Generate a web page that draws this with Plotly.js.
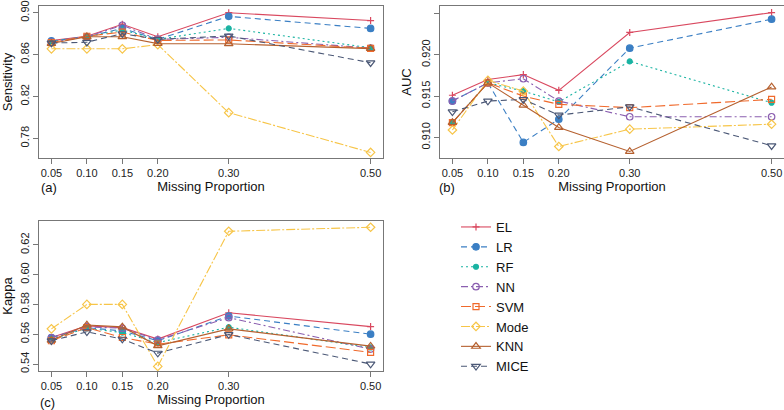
<!DOCTYPE html>
<html>
<head>
<meta charset="utf-8">
<script src="https://cdn.plot.ly/plotly-3.0.1.min.js"></script>
<style>html,body{margin:0;padding:0;background:#fff;}#chart{width:784px;height:410px;}</style>
</head>
<body>
<div id="chart"></div>
<script>
// ---- data ----
const proportions = [0.05, 0.10, 0.15, 0.20, 0.30, 0.50];
const tickLabels = ['0.05', '0.10', '0.15', '0.20', '0.30', '0.50'];
const methods = ['EL', 'LR', 'RF', 'NN', 'SVM', 'Mode', 'KNN', 'MICE'];

const sensEL   = [0.8735, 0.8775, 0.8890, 0.8770, 0.9000, 0.8925];
const sensLR   = [0.8730, 0.8770, 0.8850, 0.8745, 0.8965, 0.8850];
const sensRF   = [0.8725, 0.8770, 0.8835, 0.8745, 0.8850, 0.8665];
const sensNN   = [0.8720, 0.8770, 0.8880, 0.8745, 0.8765, 0.8662];
const sensSVM  = [0.8715, 0.8775, 0.8815, 0.8735, 0.8740, 0.8660];
const sensMode = [0.8655, 0.8655, 0.8655, 0.8695, 0.8045, 0.7665];
const sensKNN  = [0.8705, 0.8770, 0.8770, 0.8705, 0.8703, 0.8657];
const sensMICE = [0.8710, 0.8718, 0.8800, 0.8745, 0.8778, 0.8522];

const aucEL   = [0.9151, 0.9170, 0.9176, 0.9157, 0.9227, 0.9251];
const aucLR   = [0.9144, 0.9166, 0.9094, 0.9122, 0.9208, 0.9243];
const aucRF   = [0.9118, 0.9166, 0.9156, 0.9143, 0.9192, 0.9142];
const aucNN   = [0.9144, 0.9166, 0.9171, 0.9144, 0.9125, 0.9125];
const aucSVM  = [0.9118, 0.9166, 0.9150, 0.9140, 0.9136, 0.9146];
const aucMode = [0.9109, 0.9169, 0.9156, 0.9089, 0.9110, 0.9116];
const aucKNN  = [0.9118, 0.9166, 0.9139, 0.9112, 0.9083, 0.9161];
const aucMICE = [0.9131, 0.9144, 0.9146, 0.9127, 0.9137, 0.9090];

const kapEL   = [0.5578, 0.5656, 0.5644, 0.5567, 0.5744, 0.5651];
const kapLR   = [0.5578, 0.5644, 0.5622, 0.5556, 0.5722, 0.5600];
const kapRF   = [0.5567, 0.5640, 0.5611, 0.5544, 0.5647, 0.5511];
const kapNN   = [0.5575, 0.5650, 0.5640, 0.5562, 0.5711, 0.5500];
const kapSVM  = [0.5556, 0.5644, 0.5578, 0.5533, 0.5596, 0.5478];
const kapMode = [0.5636, 0.5800, 0.5800, 0.5384, 0.6291, 0.6318];
const kapKNN  = [0.5560, 0.5662, 0.5649, 0.5522, 0.5636, 0.5520];
const kapMICE = [0.5556, 0.5616, 0.5567, 0.5473, 0.5598, 0.5400];

const sensData = [sensEL, sensLR, sensRF, sensNN, sensSVM, sensMode, sensKNN, sensMICE];
const aucData  = [aucEL, aucLR, aucRF, aucNN, aucSVM, aucMode, aucKNN, aucMICE];
const kapData  = [kapEL, kapLR, kapRF, kapNN, kapSVM, kapMode, kapKNN, kapMICE];

// ---- styles ----
const colors = ['#D9485F', '#3B7FC4', '#1AB3A2', '#8B5FB0', '#F06A2C', '#F7C548', '#B5602F', '#4B5876'];
const dashes = ['solid', '6px,4px', '2px,3px', '7px,3px,2px,3px', '10px,4px', '9px,2px,2px,2px', 'solid', '6px,4px'];
const symbols = ['cross-thin-open', 'circle', 'circle', 'circle-open', 'square-open', 'diamond-open', 'triangle-up-open', 'triangle-down-open'];
const sizes = [5, 6.5, 5, 6.5, 6, 6.5, 7.5, 7.5];

const traces = [];
const panels = [[sensData, 'x', 'y'], [aucData, 'x2', 'y2'], [kapData, 'x3', 'y3']];
panels.forEach(([data, xa, ya], p) => {
  methods.forEach((m, i) => {
    traces.push({
      type: 'scatter', mode: 'lines+markers',
      x: proportions, y: data[i], name: m,
      xaxis: xa, yaxis: ya,
      showlegend: p === 0, legendgroup: m,
      line: {color: colors[i], width: 1.1, dash: dashes[i]},
      marker: {symbol: symbols[i], size: sizes[i], color: colors[i],
               line: {color: colors[i], width: 1.2}},
      hoverinfo: 'x+y+name'
    });
  });
});

const W = 784, H = 410;
const px = v => v / W, py = v => 1 - v / H;
const tickFont = {family: 'Liberation Sans, Arial, sans-serif', size: 11, color: '#222'};
const titleFont = {family: 'Liberation Sans, Arial, sans-serif', size: 13, color: '#111'};

function xax(dom, anchor) {
  return {
    domain: dom, anchor: anchor, range: [0.0325, 0.5175],
    tickmode: 'array', tickvals: proportions, ticktext: tickLabels,
    showline: true, mirror: true, linecolor: '#777', linewidth: 1,
    ticks: 'outside', ticklen: 5, tickcolor: '#777', tickwidth: 1,
    showgrid: false, zeroline: false, tickfont: tickFont,
    title: {text: 'Missing Proportion', font: titleFont, standoff: 3}
  };
}
function yax(dom, anchor, range, tv, fmt, title) {
  return {
    domain: dom, anchor: anchor, range: range,
    tickmode: 'array', tickvals: tv, ticktext: tv.map(v => v.toFixed(fmt)),
    tickangle: -90,
    showline: true, mirror: true, linecolor: '#777', linewidth: 1,
    ticks: 'outside', ticklen: 5, tickcolor: '#777', tickwidth: 1,
    showgrid: false, zeroline: false, tickfont: tickFont,
    title: {text: title, font: titleFont, standoff: 5}
  };
}

const topRow = [py(158), py(6)];
const botRow = [py(371), py(221)];
const layout = {
  width: W, height: H,
  margin: {l: 0, r: 0, t: 0, b: 0},
  paper_bgcolor: '#fff', plot_bgcolor: '#fff',
  font: {family: 'Liberation Sans, Arial, sans-serif'},
  xaxis: xax([px(39), px(383)], 'y'),
  yaxis: yax(topRow, 'x', [0.7612, 0.9064], [0.78, 0.82, 0.86, 0.90], 2, 'Sensitivity'),
  xaxis2: xax([px(440), 1], 'y2'),
  yaxis2: yax(topRow, 'x2', [0.90751, 0.9259], [0.910, 0.915, 0.920, 0.925], 3, 'AUC'),
  xaxis3: xax([px(39), px(383)], 'y3'),
  yaxis3: yax(botRow, 'x3', [0.5353, 0.636], [0.54, 0.56, 0.58, 0.60, 0.62], 2, 'Kappa'),
  legend: {
    x: px(456), y: py(297), xanchor: 'left', yanchor: 'middle',
    font: {family: 'Liberation Sans, Arial, sans-serif', size: 13, color: '#111'},
    bgcolor: 'rgba(0,0,0,0)', borderwidth: 0, tracegroupgap: 0
  },
  annotations: [
    {text: '(a)', x: px(39), y: py(188), xref: 'paper', yref: 'paper', xanchor: 'left', yanchor: 'middle', showarrow: false, font: titleFont},
    {text: '(b)', x: px(437), y: py(188), xref: 'paper', yref: 'paper', xanchor: 'left', yanchor: 'middle', showarrow: false, font: titleFont},
    {text: '(c)', x: px(38), y: py(402), xref: 'paper', yref: 'paper', xanchor: 'left', yanchor: 'middle', showarrow: false, font: titleFont}
  ],
  showlegend: true
};

Plotly.newPlot('chart', traces, layout, {displayModeBar: false, staticPlot: true});
</script>
</body>
</html>
